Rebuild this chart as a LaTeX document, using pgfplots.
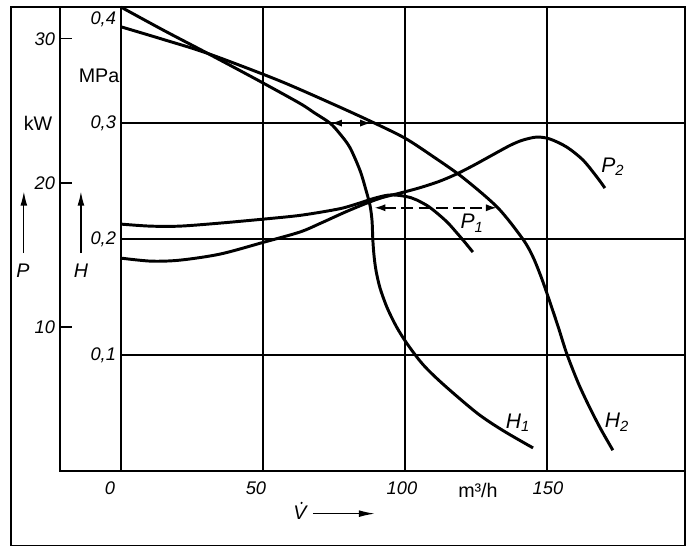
\documentclass[border=0pt]{standalone}
\usepackage{fontspec}
\setmainfont{Liberation Sans}
\usepackage{pgfplots}
\usepackage{pgfplotstable}
\pgfplotsset{compat=1.18}
\usetikzlibrary{arrows.meta}

% power curves, kW over m^3/h
\pgfplotstableread{
V P
0 17.14
10.2 17.00
20.8 17.00
34.9 17.21
50.4 17.49
62 17.72
70.4 17.97
78 18.25
84 18.6
89 18.92
94 19.15
98 19.13
102 18.98
104.2 18.81
108 18.4
111.3 17.9
115 17.25
118.3 16.52
121 15.9
123.9 15.2
}\Pone
\pgfplotstableread{
V P
0 14.78
10.6 14.57
20.8 14.64
34.9 15.06
50.4 15.89
63.0 16.59
70.4 17.21
78.9 17.97
86.6 18.60
92 18.98
98.2 19.29
105 19.65
112 20.1
118 20.6
124 21.2
130 21.85
137 22.6
141.5 22.97
146.5 23.18
151.1 23.04
157.0 22.48
162.7 21.58
167.6 20.40
170.4 19.64
}\Ptwo
% head curves, MPa over m^3/h
\pgfplotstableread{
V H
0 0.400
15 0.380
30.6 0.360
48.2 0.337
63.0 0.317
68 0.309
73.6 0.300
77 0.291
80.6 0.279
84.2 0.259
86.3 0.242
87.7 0.229
88.4 0.216
88.7 0.199
89.1 0.186
89.8 0.173
91.2 0.158
93.7 0.141
97 0.1245
100.7 0.110
106.3 0.092
113.4 0.075
125.4 0.050
134.5 0.035
145.1 0.020
}\Hone
\pgfplotstableread{
V H
0 0.383
15 0.372
30.6 0.360
55.3 0.337
75 0.316
88.4 0.301
100 0.287
110 0.271
120.4 0.253
132.7 0.227
141.5 0.200
145 0.185
148 0.167
151 0.146
154 0.124
157 0.101
161 0.076
165 0.055
169 0.036
173.2 0.018
}\Htwo

\begin{document}
\begin{tikzpicture}[font=\fontsize{13}{15}\selectfont]
\begin{axis}[at={(0,0)}, anchor=south west, scale only axis,
  width=15.625cm, height=11.6cm,
  xmin=-21.5, xmax=198.6, ymin=0, ymax=32.2,
  axis line style={line width=1.4pt},
  xtick={0,50,100,150}, xticklabels={0,50,100,150},
  xtick style={draw=none},
  xmajorgrids, major grid style={line width=0.9pt, black},
  xticklabel style={font=\fontsize{13}{15}\selectfont\itshape, yshift=-0.15cm,
    xshift={(4*\ticknum-11)*0.025cm}},
  ytick={10,20,30}, yticklabels={10,20,30}, ytick pos=left,
  tick align=inside, major tick length=0.3cm,
  ytick style={line width=1pt, black},
  yticklabel style={font=\fontsize{13}{15}\selectfont\itshape},
  clip=false]
  \addplot[line width=2.1pt, smooth] table {\Pone};
  \addplot[line width=2.1pt, smooth] table {\Ptwo};
  \node[font=\fontsize{15}{17}\selectfont\itshape] at (axis cs:123.6,17.2) {P\textsubscript{1}};
  \node[font=\fontsize{15}{17}\selectfont\itshape] at (axis cs:173.2,21.1) {P\textsubscript{2}};
  % outer frame and picture extent
  \draw[line width=1pt] (axis cs:-38.73,-5.14) rectangle (axis cs:198.6,32.2);
  \path (axis cs:-42.6,-5.41) rectangle (axis cs:198.95,32.69);
  \node[font=\fontsize{14}{16}\selectfont] at (axis cs:-29.2,24.15) {kW};
  \draw[line width=0.9pt, -{Latex[length=0.35cm, width=0.17cm]}] (axis cs:-34.2,15.13) -- (axis cs:-34.2,19.4);
  \node[font=\fontsize{14}{16}\selectfont\itshape] at (axis cs:-34.5,13.9) {P};
  \draw[line width=0.9pt, -{Latex[length=0.35cm, width=0.17cm]}] (axis cs:-14.1,15.13) -- (axis cs:-14.1,19.4);
  \node[font=\fontsize{14}{16}\selectfont\itshape] at (axis cs:-14.1,13.9) {H};
  \node[font=\fontsize{14}{16}\selectfont\itshape, inner sep=0pt] (vlab) at (axis cs:63.0,-2.91) {V};
  \fill ([xshift=1.2pt, yshift=2.2pt]vlab.north) circle (0.85pt);
  \draw[line width=0.9pt, -{Latex[length=0.4cm, width=0.17cm]}] (axis cs:67.6,-2.95) -- (axis cs:89.4,-2.95);
  \node[font=\fontsize{14}{16}\selectfont] at (axis cs:125.7,-1.32) {m³/h};
\end{axis}

\begin{axis}[at={(1.525cm,0)}, anchor=south west, scale only axis,
  width=14.1cm, height=11.6cm,
  xmin=0, xmax=198.6, ymin=0, ymax=0.4,
  axis line style={line width=1.4pt},
  xtick=\empty,
  ytick={0.1,0.2,0.3}, yticklabels={{0,1},{0,2},{0,3}},
  yticklabel style={font=\fontsize{13}{15}\selectfont\itshape},
  major tick length=0pt,
  ymajorgrids, major grid style={line width=0.9pt, black},
  clip=false]
  \addplot[line width=2.1pt, smooth] table {\Hone};
  \addplot[line width=2.1pt, smooth] table {\Htwo};
  \draw[line width=1.8pt, dash pattern=on 0.3cm off 0.13cm, {Latex[length=0.3cm, width=0.18cm]}-{Latex[length=0.3cm, width=0.18cm]}] (axis cs:73.6,0.3) -- (axis cs:88.4,0.3);
  \draw[line width=1.8pt, dash pattern=on 0.3cm off 0.13cm, {Latex[length=0.3cm, width=0.18cm]}-{Latex[length=0.3cm, width=0.18cm]}] (axis cs:88.9,0.227) -- (axis cs:132.7,0.227);
  \node[font=\fontsize{15}{17}\selectfont\itshape] at (axis cs:139.8,0.042) {H\textsubscript{1}};
  \node[font=\fontsize{15}{17}\selectfont\itshape] at (axis cs:174.6,0.042) {H\textsubscript{2}};
  \node[anchor=north east, font=\fontsize{13}{15}\selectfont\itshape] at (axis cs:0,0.4) {0,4};
  \node[font=\fontsize{14}{16}\selectfont] at (axis cs:-7.7,0.341) {MPa};
\end{axis}
\end{tikzpicture}
\end{document}
